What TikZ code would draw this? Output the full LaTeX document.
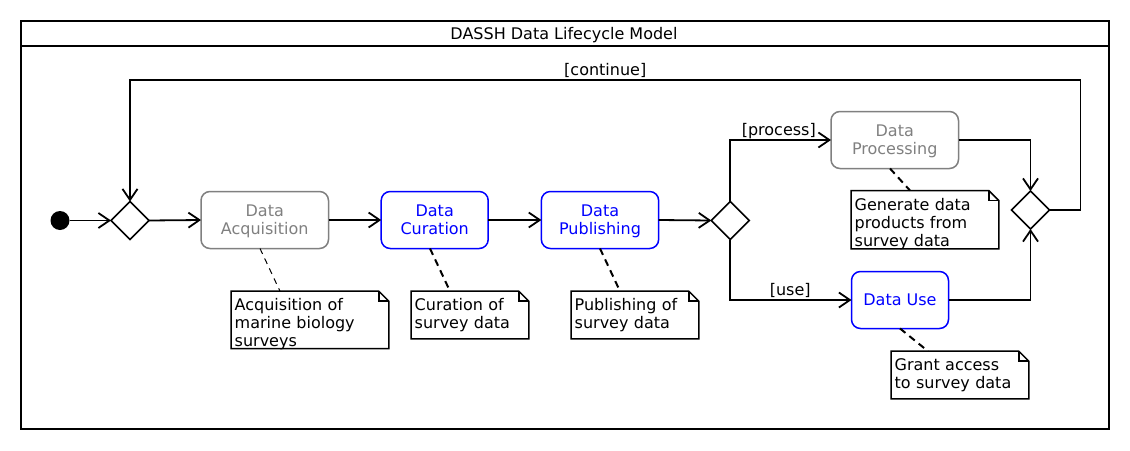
\documentclass[tikz,border=0pt]{standalone}
\usepackage{fontspec}
\setmainfont{DejaVu Sans}
\usetikzlibrary{arrows.meta,shapes.geometric}
\definecolor{actgray}{HTML}{808080}
\definecolor{actblue}{HTML}{0000FF}
\tikzset{
  every node/.style={outer sep=0pt, font=\fontsize{16}{18}\selectfont},
  actbox/.style={draw, rectangle, rounded corners=9pt, line width=1.5pt, inner xsep=0pt, inner ysep=0pt, align=center, minimum height=57pt},
  twoline/.style={text height=43.2pt, text depth=13.8pt},
  oneline/.style={text height=34.2pt, text depth=22.8pt},
  grayact/.style={actbox, draw=actgray, text=actgray},
  blueact/.style={actbox, draw=actblue, text=actblue},
  decision/.style={draw, diamond, line width=1.6pt, inner sep=0pt, minimum width=38pt, minimum height=38pt},
  startdot/.style={circle, fill=black, inner sep=0pt, minimum size=19pt},
  notebox/.style={rectangle, inner xsep=3.5pt, inner ysep=0pt, align=left, text height=19.5pt, anchor=north west},
  noteline/.style={line width=1.5pt, line join=miter},
  flow/.style={line width=1.8pt, -{Straight Barb[length=11pt,width=15pt,line width=1.8pt]}},
  plainflow/.style={line width=1.8pt},
  guard/.style={inner sep=0pt},
  anchorline/.style={line width=2pt, dash pattern=on 7pt off 5pt},
  thinanchor/.style={line width=1pt, dash pattern=on 6pt off 5pt},
  framel/.style={line width=1.5pt}
}
\begin{document}
\begin{tikzpicture}[x=1pt,y=-1pt]
\useasboundingbox (0,0) rectangle (1130,450);
\fill[white] (0,0) rectangle (1130,450);
% frame
\draw[framel] (21,21) rectangle (1109,429);
\draw[framel] (21,46) -- (1109,46);
\node[anchor=base] (title) at (564,39.5) {DASSH Data Lifecycle Model};

% nodes
\node[startdot] (init) at (60,220.5) {};
\node[decision] (d1) at (130,220.5) {};
\node[grayact, twoline, minimum width=127.5pt] (acq) at (264.75,220) {Data\\Acquisition};
\node[blueact, twoline, minimum width=107pt] (cur) at (434.7,220) {Data\\Curation};
\node[blueact, twoline, minimum width=117.3pt] (pub) at (600,220) {Data\\Publishing};
\node[decision] (d2) at (730.3,220.5) {};
\node[grayact, twoline, minimum width=127.5pt] (proc) at (894.75,140) {Data\\Processing};
\node[blueact, oneline, minimum width=97pt] (use) at (900,300) {Data Use};
\node[decision] (d3) at (1030.5,210) {};

% notes
\node[notebox, text width=150.6pt, text depth=38pt] (n1) at (231.2,291.2) {Acquisition of\\marine biology\\surveys};
\node[notebox, text width=110.6pt, text depth=28.1pt] (n2) at (411.2,291.2) {Curation of\\survey data};
\node[notebox, text width=120.6pt, text depth=28.1pt] (n3) at (571.2,291.2) {Publishing of\\survey data};
\node[notebox, text width=140.6pt, text depth=38.8pt] (n4) at (851.2,190.5) {Generate data\\products from\\survey data};
\node[notebox, text width=130.6pt, text depth=28.1pt] (n5) at (891.2,351.2) {Grant access\\to survey data};
\foreach \n in {n1,n2,n3,n4,n5}{
  \draw[noteline] (\n.north west) -- ([xshift=-10pt]\n.north east) -- ([yshift=-10pt]\n.north east) -- (\n.south east) -- (\n.south west) -- cycle;
  \draw[noteline] ([xshift=-10pt]\n.north east) -- ([xshift=-10pt,yshift=-10pt]\n.north east) -- ([yshift=-10pt]\n.north east);
}

% loop coordinates
\coordinate (loopR) at (1080.5,80);
\coordinate (loopL) at (130,80);

% connectors
\draw[flow] (init) -- (d1.west);
\draw[flow] (d1.east) -- (acq.west);
\draw[flow] (acq.east) -- (cur.west);
\draw[flow] (cur.east) -- (pub.west);
\draw[flow] (pub.east) -- (d2.west);
\draw[flow] (d2.north) |- node[guard, pos=0.5, anchor=base west, xshift=11.5pt, yshift=5pt] (gproc) {[process]} (proc.west);
\draw[flow] (d2.south) |- node[guard, pos=0.5, anchor=base west, xshift=39.5pt, yshift=4.7pt] (guse) {[use]} (use.west);
\draw[flow] (proc.east) -| (d3.north);
\draw[flow] (use.east) -| (d3.south);
\draw[plainflow] (d3.east) -| (loopR);
\draw[flow] (loopR) -- node[guard, pos=0.5, anchor=base, yshift=4.3pt] (gcont) {[continue]} (loopL) -- (d1.north);

% note anchors
\draw[thinanchor] ([xshift=-4.75pt]acq.south) -- ([xshift=-30pt]n1.north);
\draw[anchorline] ([xshift=-4.7pt]cur.south) -- ([xshift=-20pt]n2.north);
\draw[anchorline] (pub.south) -- ([xshift=-15pt]n3.north);
\draw[anchorline] ([xshift=-4.75pt]proc.south) -- ([xshift=-15pt]n4.north);
\draw[anchorline] (use.south) -- ([xshift=-32pt]n5.north);
\end{tikzpicture}
\end{document}
